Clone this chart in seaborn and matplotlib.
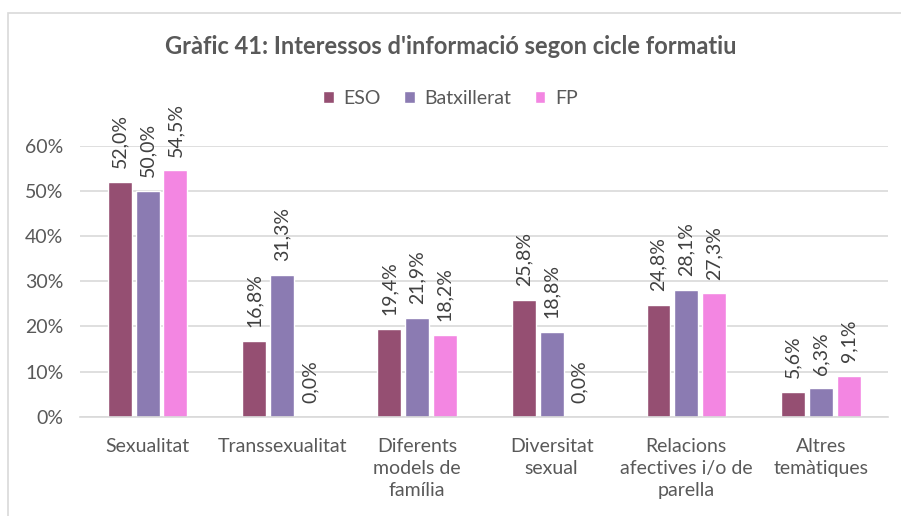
import seaborn as sns
import matplotlib.pyplot as plt
import pandas as pd
from matplotlib.patches import Rectangle
from matplotlib.ticker import PercentFormatter

categories = ['Sexualitat', 'Transsexualitat', 'Diferents\nmodels de\nfamília',
              'Diversitat\nsexual', 'Relacions\nafectives i/o de\nparella', 'Altres\ntemàtiques']
series = ['ESO', 'Batxillerat', 'FP']
eso = [52.0, 16.8, 19.4, 25.8, 24.8, 5.6]
batx = [50.0, 31.3, 21.9, 18.8, 28.1, 6.3]
fp = [54.5, 0.0, 18.2, 0.0, 27.3, 9.1]
colors = ['#954F72', '#8B7BB2', '#F386E2']

df = pd.DataFrame({
    'cat': categories * 3,
    'cicle': [s for s in series for _ in categories],
    'val': eso + batx + fp,
})

sns.set_style('white')
plt.rcParams['font.family'] = ['Lato', 'DejaVu Sans']

fig = plt.figure(figsize=(9.01, 5.16), dpi=100)
ax = fig.add_axes([0.089, 0.192, 0.897, 0.526])

sns.barplot(data=df, x='cat', y='val', hue='cicle', palette=colors,
            width=0.62, gap=0.14, saturation=1, ax=ax, legend=True)

for cont in ax.containers:
    labels = [f'{b.get_height():.1f}%'.replace('.', ',') for b in cont]
    ax.bar_label(cont, labels=labels, rotation=90, padding=10,
                 fontsize=14, color='#404040')

ax.set_ylim(0, 60)
ax.set_yticks(range(0, 61, 10))
ax.yaxis.set_major_formatter(PercentFormatter(decimals=0))
ax.grid(axis='y', color='#d9d9d9', linewidth=1.2)
ax.set_axisbelow(True)
for s in ['top', 'right', 'left']:
    ax.spines[s].set_visible(False)
ax.spines['bottom'].set_color('#d9d9d9')
ax.spines['bottom'].set_linewidth(1.2)
ax.tick_params(axis='both', length=0, labelsize=14, labelcolor='#595959')
ax.tick_params(axis='y', pad=12)
ax.tick_params(axis='x', pad=15)
for t in ax.get_xticklabels():
    t.set_linespacing(1.35)
ax.set_xlabel('')
ax.set_ylabel('')

ax.legend(loc='center', bbox_to_anchor=(0.5, 0.81), bbox_transform=fig.transFigure,
          ncol=3, frameon=False, fontsize=14, handlelength=0.55, handleheight=0.55,
          columnspacing=1.2, handletextpad=0.5, labelcolor='#595959')

fig.text(0.5, 0.909, "Gràfic 41: Interessos d'informació segon cicle formatiu",
         ha='center', va='center', fontsize=17, fontweight='bold', color='#595959')

fig.patches.append(Rectangle((8 / 901, -0.1), 1.0, 1 - 13 / 516 + 0.1,
                             transform=fig.transFigure, fill=False,
                             edgecolor='#d9d9d9', linewidth=1.2))

plt.savefig('out.png', dpi=100)
